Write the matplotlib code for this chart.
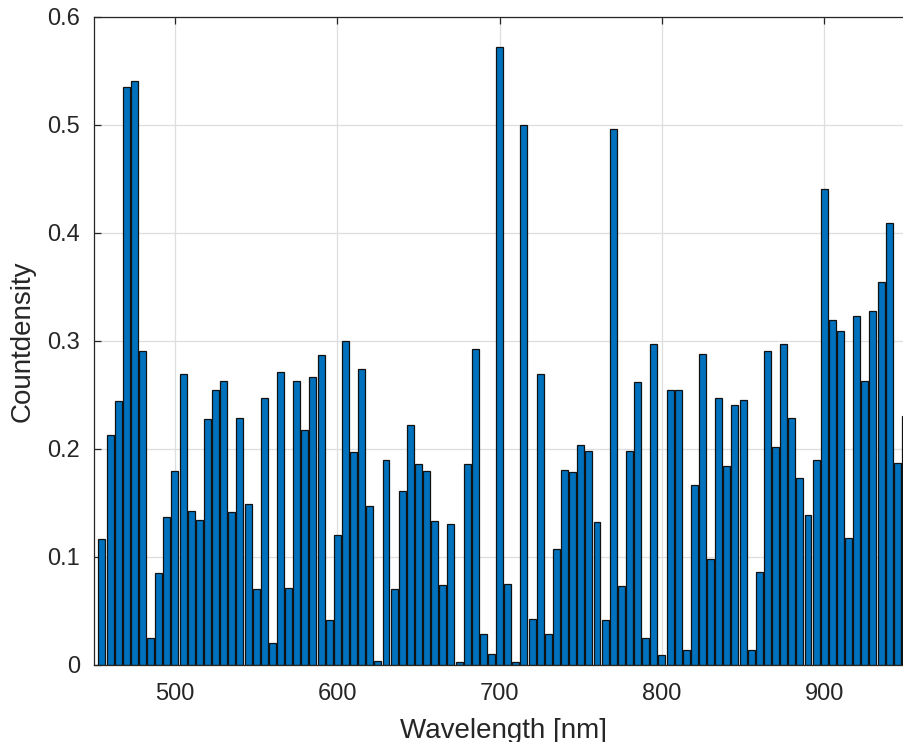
import numpy as np
import matplotlib
matplotlib.use('Agg')
import matplotlib.pyplot as plt

# bin centres (nm) and bar heights
wavelength = np.arange(455, 951, 5)
countdensity = [
    0.117, 0.213, 0.244, 0.535, 0.541, 0.291, 0.025, 0.085, 0.137, 0.180,
    0.269, 0.143, 0.134, 0.228, 0.255, 0.263, 0.142, 0.229, 0.149, 0.070,
    0.247, 0.020, 0.271, 0.071, 0.263, 0.218, 0.267, 0.287, 0.042, 0.120,
    0.300, 0.197, 0.274, 0.147, 0.004, 0.190, 0.070, 0.161, 0.222, 0.186,
    0.180, 0.133, 0.074, 0.131, 0.003, 0.186, 0.293, 0.029, 0.010, 0.572,
    0.075, 0.003, 0.500, 0.043, 0.269, 0.029, 0.107, 0.181, 0.179, 0.204,
    0.198, 0.132, 0.042, 0.496, 0.073, 0.198, 0.262, 0.025, 0.297, 0.009,
    0.255, 0.255, 0.014, 0.167, 0.288, 0.098, 0.247, 0.184, 0.241, 0.245,
    0.014, 0.086, 0.291, 0.202, 0.297, 0.229, 0.173, 0.139, 0.190, 0.441,
    0.319, 0.309, 0.118, 0.323, 0.263, 0.328, 0.355, 0.409, 0.187, 0.231,
]
xticks = [500, 600, 700, 800, 900]
yticks = [0, 0.1, 0.2, 0.3, 0.4, 0.5, 0.6]

plt.rcParams['font.family'] = ['Liberation Sans', 'DejaVu Sans']
axis_color = '#262626'

fig = plt.figure(figsize=(9.04, 7.42), dpi=100)
# axes run past the right edge, like the cropped original
ax = fig.add_axes([0.1038, 0.1038, 0.9067, 0.8733])

ax.bar(wavelength, countdensity, width=4.3, color='#0072BD',
       edgecolor='#111111', linewidth=0.9)

ax.set_xlim(450, 955)
ax.set_ylim(0, 0.6)
ax.set_xticks(xticks)
ax.set_yticks(yticks)
ax.set_yticklabels(['0', '0.1', '0.2', '0.3', '0.4', '0.5', '0.6'])

ax.set_axisbelow(True)
ax.grid(True, color='#dedede', linewidth=0.9)
for s in ax.spines.values():
    s.set_color(axis_color)
    s.set_linewidth(0.9)

ax.tick_params(direction='in', length=5, width=0.9, colors=axis_color,
               labelsize=17, top=True, right=True, pad=10)
ax.tick_params(axis='x', pad=13)

ax.set_xlabel('Wavelength [nm]', fontsize=20, color=axis_color, labelpad=9)
ax.set_ylabel('Countdensity', fontsize=20, color=axis_color, labelpad=8)

fig.savefig('out.png', dpi=100)
